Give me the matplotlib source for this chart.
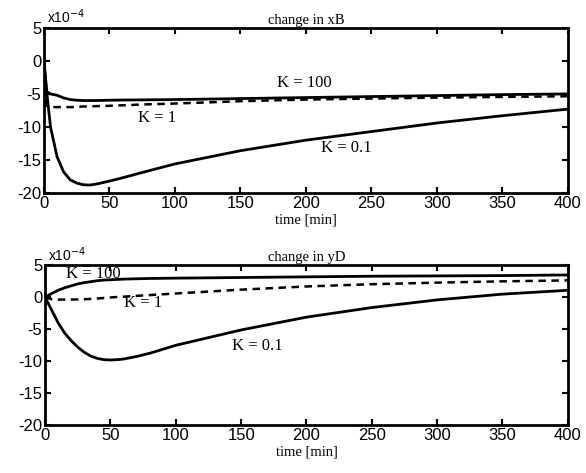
import matplotlib.pyplot as plt

plt.rcParams['axes.unicode_minus'] = False

# time points [min] and responses (units of 1e-4)
t_xb = [0, 2, 5, 10, 15, 20, 25, 30, 35, 40, 50, 60, 75, 100, 125, 150, 200, 250, 300, 350, 400]
xb_k100 = [0, -4.6, -5.0, -5.2, -5.6, -5.85, -5.95, -6.0, -6.0, -6.0, -5.95, -5.92, -5.9, -5.85, -5.78, -5.7, -5.55, -5.4, -5.25, -5.1, -5.0]
xb_k1 = [0, -6.8, -7.0, -7.0, -7.0, -7.0, -6.95, -6.9, -6.9, -6.85, -6.8, -6.72, -6.6, -6.45, -6.28, -6.1, -5.85, -5.7, -5.55, -5.45, -5.35]
xb_k01 = [0, -4.5, -10.0, -14.5, -16.8, -18.0, -18.5, -18.75, -18.8, -18.65, -18.2, -17.7, -16.9, -15.6, -14.6, -13.6, -12.0, -10.7, -9.4, -8.3, -7.3]

t_yd = [0, 5, 10, 15, 20, 25, 30, 35, 40, 45, 50, 55, 60, 70, 80, 100, 125, 150, 200, 250, 300, 350, 400]
yd_k100 = [0, 0.6, 1.1, 1.5, 1.8, 2.1, 2.3, 2.45, 2.6, 2.7, 2.75, 2.8, 2.85, 2.9, 2.95, 3.0, 3.05, 3.1, 3.2, 3.3, 3.35, 3.4, 3.5]
yd_k1 = [0, -0.3, -0.35, -0.36, -0.35, -0.33, -0.3, -0.25, -0.18, -0.1, -0.02, 0.05, 0.1, 0.23, 0.35, 0.6, 0.9, 1.2, 1.7, 2.05, 2.3, 2.5, 2.65]
yd_k01 = [0, -2.0, -4.0, -5.6, -6.8, -7.8, -8.6, -9.2, -9.55, -9.75, -9.8, -9.75, -9.65, -9.25, -8.75, -7.5, -6.3, -5.1, -3.1, -1.6, -0.4, 0.5, 1.1]

xticks = [0, 50, 100, 150, 200, 250, 300, 350, 400]
yticks = [-20, -15, -10, -5, 0, 5]

serif = 'Liberation Serif'
sans = 'Liberation Sans'

fig = plt.figure(figsize=(5.86, 4.73), dpi=100)
ax1 = fig.add_axes([0.075, 0.592, 0.894, 0.349])
ax2 = fig.add_axes([0.077, 0.101, 0.892, 0.338])

panels = [
    (ax1, t_xb, xb_k100, xb_k1, xb_k01, 'change in xB',
     [('K = 100', 199, -3.3), ('K = 1', 86, -8.6), ('K = 0.1', 231, -13.2)]),
    (ax2, t_yd, yd_k100, yd_k1, yd_k01, 'change in yD',
     [('K = 100', 37, 3.7), ('K = 1', 75, -0.9), ('K = 0.1', 162, -7.6)]),
]

for ax, t, k100, k1, k01, title, labels in panels:
    ax.plot(t, k100, color='black', lw=2.0)
    ax.plot(t, k1, color='black', lw=1.8, ls=(0, (3, 2.2)))
    ax.plot(t, k01, color='black', lw=2.0)
    ax.set_xlim(0, 400)
    ax.set_ylim(-20, 5)
    ax.set_xticks(xticks)
    ax.set_yticks(yticks)
    ax.tick_params(direction='in', top=True, right=True, length=4, width=1.5,
                   labelsize=12, pad=2)
    for lab in ax.get_xticklabels() + ax.get_yticklabels():
        lab.set_family(sans)
    for s in ax.spines.values():
        s.set_linewidth(2.0)
    ax.set_title(title, family=serif, fontsize=10.5, pad=3)
    ax.set_xlabel('time [min]', family=serif, fontsize=10.5, labelpad=2)
    ax.text(0.005, 1.01, 'x10$^{-4}$', transform=ax.transAxes, family=sans,
            fontsize=10, va='bottom', ha='left')
    for txt, x, y in labels:
        ax.text(x, y, txt, family=serif, fontsize=12, ha='center', va='center')

fig.savefig('out.png', dpi=100)
